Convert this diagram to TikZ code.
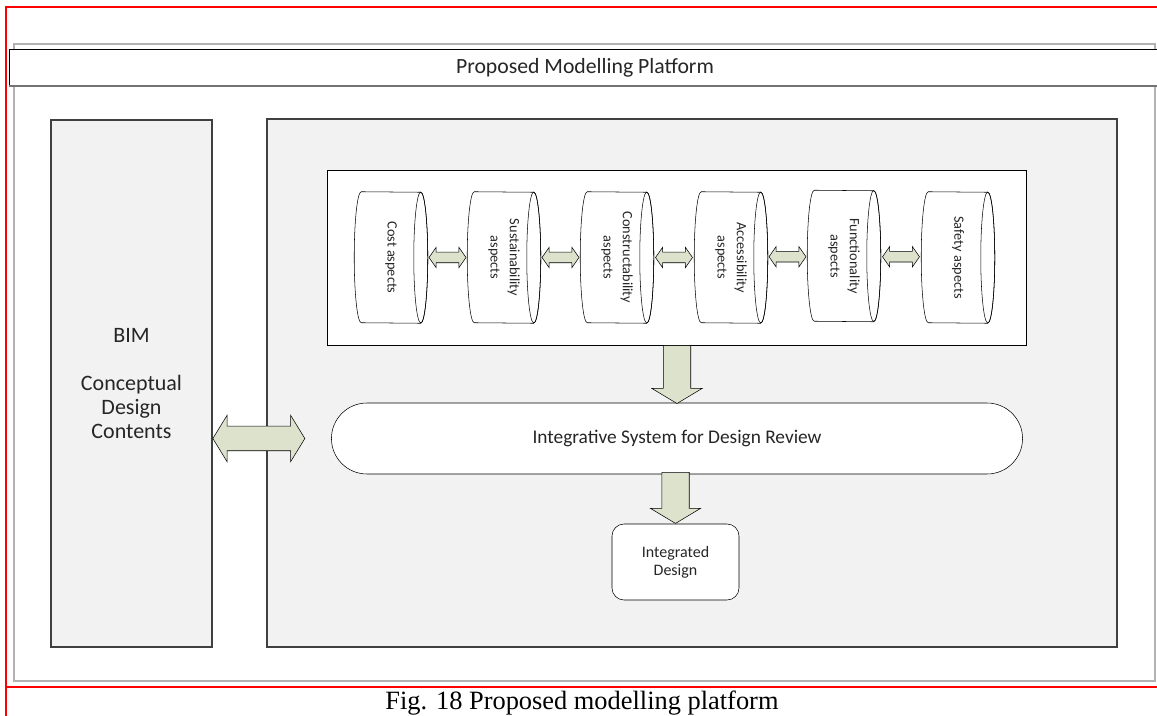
\documentclass[tikz,border=0pt]{standalone}
\usepackage{fontspec}
\setmainfont{Carlito}
\newfontfamily\capfont{Liberation Serif}
\usetikzlibrary{shapes.arrows,shapes.misc,shadows,calc}
\definecolor{panelgray}{RGB}{242,242,242}
\definecolor{arrowgreen}{RGB}{221,226,205}
\definecolor{textgray}{RGB}{38,38,38}

\begin{document}
\begin{tikzpicture}[x=0.75pt,y=-0.75pt,
    panel/.style={draw=black!75,fill=panelgray,line width=0.8pt,
        drop shadow={shadow xshift=1.1pt,shadow yshift=-1.1pt,fill=black!60,opacity=1}},
    cyl/.style={minimum width=54.75pt,minimum height=98.25pt,inner sep=0pt},
    cylline/.style={draw,thin,fill=white},
    cyltext/.style={rotate=-90,align=center,font=\fontsize{10.7}{14.5}\selectfont,text=textgray},
    smalldbl/.style={double arrow,draw,thin,fill=arrowgreen,inner sep=3.75pt,
        minimum height=27.75pt,double arrow head extend=3.75pt,double arrow tip angle=110},
    bigdbl/.style={double arrow,draw,thin,fill=arrowgreen,inner sep=9pt,
        minimum height=69pt,double arrow head extend=8.25pt,double arrow tip angle=117},
    downarr/.style={single arrow,draw,thin,fill=arrowgreen,inner sep=10.1pt,
        shape border rotate=270,single arrow head extend=8.6pt,single arrow tip angle=118}]
    \useasboundingbox (0,0) rectangle (1157,716);

    % outer frame
    \draw[red,line width=1.6pt] (6,716) -- (6,7) -- (1157,7);
    \draw[red,line width=1.6pt] (6,687) -- (1157,687);
    \draw[black!30,line width=1.2pt] (14,44) rectangle (1155,681);

    % title bar
    \fill[white] (9,49) rectangle (1157,86);
    \draw[thin] (1157,49) -- (9,49) -- (9,86);
    \draw[black!55,line width=1.5pt] (9,86) -- (1157,86);
    \node[font=\fontsize{16.3}{19}\selectfont,text=textgray] (title) at (585,68) {Proposed Modelling Platform};

    % panels
    \node[panel,minimum width=120.75pt,minimum height=395.25pt,align=center,
        font=\fontsize{16.5}{18}\selectfont,text=textgray] (bim) at (131.5,383.5)
        {BIM\\[18pt]Conceptual\\Design\\Contents};
    \draw[panel] (267,119) rectangle (1117,647);
    \node[draw,thin,fill=white,minimum width=524.25pt,minimum height=131.25pt] (aspects) at (676.5,257.5) {};

    % aspect cylinders
    \node[cyl] (cost) at (391,257.5) {};
    \node[cyl] (sust) at (504,257.5) {};
    \node[cyl] (cons) at (617,257.5) {};
    \node[cyl] (acce) at (731,257.5) {};
    \node[cyl] (func) at (844,256) {};
    \node[cyl] (safe) at (958,257.5) {};
    \foreach \c in {cost,sust,cons,acce,func,safe}{
        \draw[cylline] ($(\c.north west)+(5.25pt,0)$)
            arc[start angle=90,end angle=270,x radius=5.25pt,y radius=49.125pt]
            -- ($(\c.south east)+(-5.25pt,0)$)
            arc[start angle=-90,end angle=90,x radius=5.25pt,y radius=49.125pt] -- cycle;
        \draw[thin] ($(\c.east)+(-5.25pt,0)$) ellipse[x radius=5.25pt,y radius=49.125pt];
    }

    \node[cyltext] (costlbl) at (cost.center) {Cost aspects};
    \node[cyltext] (sustlbl) at (sust.center) {Sustainability\\aspects};
    \node[cyltext] (conslbl) at (cons.center) {Constructability\\aspects};
    \node[cyltext] (accelbl) at (acce.center) {Accessibility\\aspects};
    \node[cyltext] (funclbl) at (func.center) {Functionality\\aspects};
    \node[cyltext] (safelbl) at (safe.center) {Safety aspects};

    \node[smalldbl] (a1) at ($(cost.east)!0.5!(sust.west)$) {};
    \node[smalldbl] (a2) at ($(sust.east)!0.5!(cons.west)$) {};
    \node[smalldbl] (a3) at ($(cons.east)!0.5!(acce.west)$) {};
    \node[smalldbl] (a4) at ($(acce.east)!0.5!(func.west)$) {};
    \node[smalldbl] (a5) at ($(func.east)!0.5!(safe.west)$) {};

    % review and result
    \node[rounded rectangle,draw,thin,fill=white,minimum width=525pt,minimum height=53.25pt,
        font=\fontsize{14.5}{17}\selectfont,text=textgray] (review) at (677,438.5)
        {Integrative System for Design Review};
    \node[draw,thin,fill=white,rounded corners=9pt,minimum width=95.25pt,minimum height=57pt,
        align=center,font=\fontsize{12}{13.5}\selectfont,text=textgray] (result) at (675.5,562)
        {Integrated\\Design};

    \node[downarr,minimum height=43.5pt,anchor=tail] (d1) at (aspects.south -| review.north) {};
    \node[downarr,minimum height=38.25pt,anchor=tip] (d2) at (result.north) {};
    \node[bigdbl,anchor=west] (link) at (bim.east |- review.west) {};

    \node[font=\capfont\fontsize{19.8}{22}\selectfont] (caption) at (582,703) {Fig. 18 Proposed modelling platform};
\end{tikzpicture}
\end{document}
